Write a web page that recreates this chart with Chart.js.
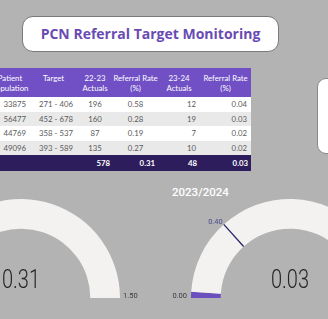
<!DOCTYPE html>
<html>
<head>
<meta charset="utf-8">
<script src="https://cdn.jsdelivr.net/npm/chart.js@4"></script>
<style>
  body { margin:0; width:328px; height:319px; background:#b3b3b3; overflow:hidden; position:relative; font-family:"Open Sans", sans-serif; }
  #titlebox { position:absolute; left:22px; top:16px; width:255px; height:34px; background:#fff; border:1px solid #7a7a7a; border-radius:11px;
    color:#6a4bb3; font:700 14px "Open Sans", sans-serif; text-align:center; line-height:34px; }
  #sidebox { position:absolute; left:317px; top:78px; width:40px; height:74px; background:#fff; border:1px solid #8a8a8a; border-radius:9px; }
  table { position:absolute; left:-10px; top:68px; border-collapse:collapse; table-layout:fixed; font-family:Lato, sans-serif; font-size:7.8px; }
  th { background:#7150c6; color:#fff; font-weight:400; height:29px; padding:0; text-align:center; line-height:10px; white-space:nowrap; overflow:visible; }
  td { height:14.5px; padding:0 4px; color:#5a5a5a; white-space:nowrap; overflow:visible; }
  tbody tr:nth-child(odd) td { background:#fff; }
  tbody tr:nth-child(even) td { background:#e9e9e9; }
  tfoot td { background:#2e1d5c; color:#fff; font-weight:700; height:16px; text-align:right; padding-right:3px; }
  .r { text-align:right; } .c { text-align:center; } .l { text-align:left; padding-left:9px; }
  .gtitle { position:absolute; left:172px; top:185px; color:#fff; font:500 11.5px Roboto, sans-serif; }
  .gauge { position:absolute; width:278px; height:129px; }
</style>
</head>
<body>
<div id="titlebox">PCN Referral Target Monitoring</div>
<div id="sidebox"></div>
<table id="tbl">
  <colgroup>
    <col style="width:40px"><col style="width:44px"><col style="width:36px"><col style="width:45px"><col style="width:42px"><col style="width:51px">
  </colgroup>
  <thead><tr id="head"></tr></thead>
  <tbody id="rows"></tbody>
  <tfoot><tr id="foot"></tr></tfoot>
</table>
<div class="gtitle">2023/2024</div>
<div class="gauge" style="left:-118px;top:189px"><canvas id="gauge1"></canvas></div>
<div class="gauge" style="left:151px;top:189px"><canvas id="gauge2"></canvas></div>

<script>
// table data
const headers = [['Patient', 'Population'], ['Target', ''], ['22-23', 'Actuals'], ['Referral Rate', '(%)'], ['23-24', 'Actuals'], ['Referral Rate', '(%)']];
const population = [33875, 56477, 44769, 49096];
const targetRange = ['271 - 406', '452 - 678', '358 - 537', '393 - 589'];
const actuals2223 = [196, 160, 87, 135];
const rate2223 = [0.58, 0.28, 0.19, 0.27];
const actuals2324 = [12, 19, 7, 10];
const rate2324 = [0.04, 0.03, 0.02, 0.02];
const totals = ['', '', 578, 0.31, 48, 0.03];

// gauge data
const gaugeValues = [0.31, 0.03];
const gaugeTargets = [0.40, 0.40];
const gaugeMin = 0.00;
const gaugeMax = 1.50;

// build the table
document.getElementById('head').innerHTML = headers.map(h => `<th>${h[0]}<br>${h[1] || '&nbsp;'}</th>`).join('');
let rowsHtml = '';
for (let i = 0; i < population.length; i++) {
    rowsHtml += `<tr><td class="r">${population[i]}</td><td class="l">${targetRange[i]}</td>` +
        `<td class="c">${actuals2223[i]}</td><td class="c">${rate2223[i].toFixed(2)}</td>` +
        `<td class="r">${actuals2324[i]}</td><td class="r">${rate2324[i].toFixed(2)}</td></tr>`;
}
document.getElementById('rows').innerHTML = rowsHtml;
document.getElementById('foot').innerHTML = totals.map((t, i) =>
    `<td>${t === '' ? '' : (i === 3 || i === 5 ? t.toFixed(2) : t)}</td>`).join('');

// labels, target marker and value for the gauges
const gaugeDecor = {
    id: 'gaugeDecor',
    afterDatasetsDraw(chart, args, opts) {
        const arc = chart.getDatasetMeta(0).data[0];
        const { x, y, innerRadius, outerRadius } = arc.getProps(['x', 'y', 'innerRadius', 'outerRadius'], true);
        const ctx = chart.ctx;
        ctx.save();

        // target line
        const a = Math.PI + (opts.target - gaugeMin) / (gaugeMax - gaugeMin) * Math.PI;
        ctx.strokeStyle = '#252466';
        ctx.lineWidth = 1.3;
        ctx.beginPath();
        ctx.moveTo(x + innerRadius * Math.cos(a), y + innerRadius * Math.sin(a));
        ctx.lineTo(x + outerRadius * Math.cos(a), y + outerRadius * Math.sin(a));
        ctx.stroke();

        ctx.font = '7.5px Roboto, sans-serif';
        ctx.fillStyle = '#4a4c8c';
        ctx.textAlign = 'right';
        ctx.textBaseline = 'bottom';
        ctx.fillText(opts.target.toFixed(2), x + outerRadius * Math.cos(a) - 1, y + outerRadius * Math.sin(a) + 1);

        ctx.fillStyle = '#3a3a3a';
        ctx.textBaseline = 'middle';
        ctx.fillText(gaugeMin.toFixed(2), x - outerRadius - 4, y - 1.5);
        ctx.textAlign = 'left';
        ctx.fillText(gaugeMax.toFixed(2), x + outerRadius + 3, y - 1.5);

        // value
        ctx.fillStyle = '#252423';
        ctx.font = '300 25px Roboto, sans-serif';
        ctx.textAlign = 'center';
        ctx.textBaseline = 'alphabetic';
        ctx.translate(x, y - 10);
        ctx.scale(0.8, 1);
        ctx.fillText(opts.value.toFixed(2), 0, 0);
        ctx.restore();
    }
};

function drawGauge(id, i) {
    const ctx = document.getElementById(id).getContext('2d');
    return new Chart(ctx, {
        type: 'doughnut',
        data: {
            labels: ['Value', 'Remaining'],
            datasets: [{
                data: [gaugeValues[i] - gaugeMin, gaugeMax - gaugeValues[i]],
                backgroundColor: ['#6b4fbf', '#f3f2f1'],
                borderWidth: 0
            }]
        },
        options: {
            responsive: true,
            maintainAspectRatio: false,
            animation: false,
            rotation: -90,
            circumference: 180,
            cutout: '70%',
            layout: { padding: { left: 40, right: 40, top: 10, bottom: 20 } },
            plugins: {
                legend: { display: false },
                tooltip: { enabled: false },
                gaugeDecor: { value: gaugeValues[i], target: gaugeTargets[i] }
            }
        },
        plugins: [gaugeDecor]
    });
}

drawGauge('gauge1', 0);
drawGauge('gauge2', 1);
</script>
</body>
</html>
